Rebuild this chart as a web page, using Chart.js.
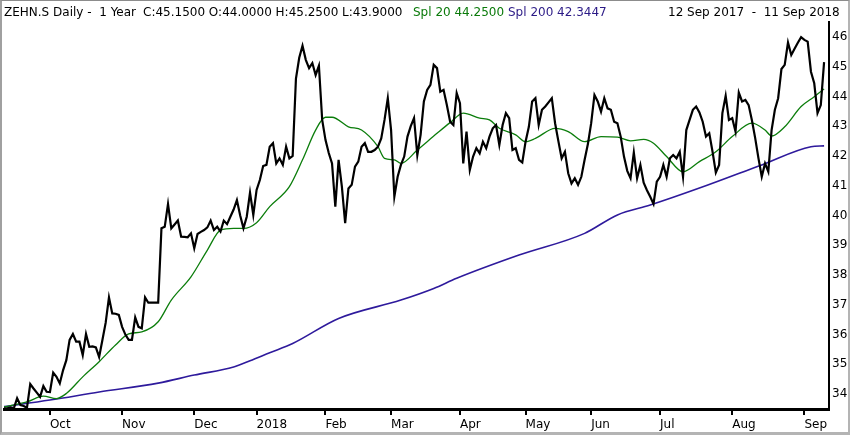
<!DOCTYPE html>
<html>
<head>
<meta charset="utf-8">
<script src="https://cdn.jsdelivr.net/npm/chart.js@4.4.0/dist/chart.umd.min.js"></script>
<style>
  html, body { margin: 0; padding: 0; background: #fff; }
  #wrap { position: relative; width: 850px; height: 435px; overflow: hidden; font-family: "DejaVu Sans", sans-serif; }
  #chart { position: absolute; left: 0; top: 0; }
  .frame { position: absolute; left: 0; top: 0; width: 850px; height: 435px; box-sizing: border-box;
    border-top: 1px solid #8c8c8c; border-left: 2px solid #a0a0a0;
    border-right: 2px solid #b4b4b4; border-bottom: 3px solid #b4b4b4; pointer-events: none; }
  .hdr { position: absolute; top: 5px; font-size: 12px; line-height: 14px; white-space: pre; color: #000; }
</style>
</head>
<body>
<div id="wrap">
  <canvas id="chart" width="850" height="435"></canvas>
  <div class="hdr" style="left:4px">ZEHN.S Daily -  1 Year</div>
  <div class="hdr" style="left:143px">C:45.1500 O:44.0000 H:45.2500 L:43.9000</div>
  <div class="hdr" style="left:413px;color:#0a7a0a">Spl 20 44.2500</div>
  <div class="hdr" style="left:508px;color:#2b1a86">Spl 200 42.3447</div>
  <div class="hdr" style="left:668px">12 Sep 2017  -  11 Sep 2018</div>
  <div class="frame"></div>
</div>
<script>
// daily closes, one per trading day (12 Sep 2017 - 11 Sep 2018)
const closeValues = [
  33.52, 33.52, 33.55, 33.52, 33.86, 33.63, 33.60, 33.54, 34.34, 34.19,
  34.05, 33.91, 34.27, 34.08, 34.07, 34.72, 34.58, 34.36, 34.80, 35.14,
  35.82, 36.02, 35.76, 35.76, 35.31, 36.02, 35.59, 35.60, 35.57, 35.25,
  35.82, 36.40, 37.25, 36.71, 36.70, 36.66, 36.26, 36.00, 35.82, 35.82,
  36.58, 36.26, 36.21, 37.25, 37.07, 37.07, 37.07, 37.07, 39.57, 39.62,
  40.39, 39.57, 39.70, 39.83, 39.29, 39.28, 39.27, 39.40, 38.90, 39.38,
  39.45, 39.51, 39.60, 39.83, 39.51, 39.62, 39.46, 39.83, 39.71, 39.96,
  40.20, 40.52, 40.00, 39.57, 39.96, 40.77, 40.02, 40.86, 41.19, 41.66,
  41.70, 42.31, 42.43, 41.75, 41.92, 41.70, 42.31, 41.92, 42.00, 44.60,
  45.30, 45.70, 45.23, 44.95, 45.12, 44.72, 45.03, 43.21, 42.54, 42.10,
  41.75, 40.30, 41.87, 40.97, 39.74, 40.91, 41.03, 41.64, 41.81, 42.31,
  42.43, 42.14, 42.14, 42.20, 42.31, 42.59, 43.21, 43.94, 42.87, 40.63,
  41.30, 41.70, 41.98, 42.65, 43.00, 43.27, 42.03, 42.71, 43.83, 44.22,
  44.39, 45.06, 44.95, 44.16, 44.22, 43.71, 43.15, 43.04, 44.11, 43.77,
  41.75, 42.82, 41.53, 41.98, 42.26, 42.09, 42.48, 42.26, 42.65, 42.93,
  43.04, 42.37, 43.04, 43.44, 43.27, 42.20, 42.26, 41.87, 41.78, 42.48,
  42.98, 43.83, 43.94, 43.04, 43.55, 43.66, 43.80, 43.94, 43.10, 42.50,
  41.92, 42.14, 41.42, 41.08, 41.25, 41.03, 41.30, 41.87, 42.40, 43.10,
  44.05, 43.83, 43.49, 43.94, 43.60, 43.55, 43.15, 43.10, 42.65, 41.98,
  41.50, 41.25, 42.12, 41.25, 41.70, 41.10, 40.85, 40.63, 40.39, 41.14,
  41.30, 41.70, 41.30, 41.92, 42.03, 41.92, 42.14, 41.30, 42.87, 43.21,
  43.55, 43.66, 43.46, 43.15, 42.65, 42.76, 42.14, 41.44, 41.70, 43.44,
  44.02, 43.21, 43.27, 42.82, 44.13, 43.83, 43.88, 43.71, 43.20, 42.60,
  41.92, 41.30, 41.75, 41.47, 42.87, 43.55, 43.94, 44.92, 45.06, 45.81,
  45.39, 45.60, 45.80, 45.99, 45.90, 45.84, 44.83, 44.44, 43.44, 43.71,
  45.15
];

// 20-day simple moving average, read at these trading-day positions
const sma20Days = [0, 7, 12, 16, 19, 24, 29, 34, 38, 42, 47, 51, 57, 62, 66, 70, 73, 77, 81, 87,
  91, 95, 98, 100, 105, 109, 114, 116, 119, 121, 126, 132, 136, 140, 145, 148, 151, 156, 159, 162,
  168, 172, 177, 182, 187, 191, 195, 198, 202, 207, 212, 217, 222, 228, 232, 234, 238, 243, 247, 250];
const sma20Values = [33.57, 33.74, 33.93, 33.85, 34.02, 34.58, 35.09, 35.65, 36.02, 36.09, 36.43, 37.16, 37.94, 38.84, 39.51, 39.57, 39.57, 39.76, 40.30, 40.97,
  41.87, 42.87, 43.30, 43.30, 42.98, 42.87, 42.31, 41.92, 41.87, 41.75, 42.20, 42.76, 43.12, 43.44, 43.27, 43.21, 42.93, 42.71, 42.48, 42.59,
  42.93, 42.82, 42.48, 42.65, 42.63, 42.51, 42.56, 42.43, 41.98, 41.47, 41.81, 42.14, 42.65, 43.10, 42.87, 42.67, 42.98, 43.66, 43.99, 44.25];

// 200-day simple moving average
const sma200Days = [0, 14, 29, 47, 58, 70, 75, 81, 88, 102, 121, 131, 138, 157, 177, 187, 197, 212, 231, 246, 250];
const sma200Values = [33.58, 33.80, 34.07, 34.37, 34.64, 34.91, 35.12, 35.39, 35.70, 36.54, 37.16, 37.55, 37.89, 38.67, 39.40, 40.02, 40.35, 40.92, 41.70, 42.31, 42.34];

// month starts (trading-day index) and their labels
const monthTickDays = [14, 36, 58, 77, 98, 118, 139, 159, 179, 200, 222, 244];
const monthTickLabels = ["Oct", "Nov", "Dec", "2018", "Feb", "Mar", "Apr", "May", "Jun", "Jul", "Aug", "Sep"];

const priceTicks = [34, 35, 36, 37, 38, 39, 40, 41, 42, 43, 44, 45, 46];

const toPoints = (days, values) => days.map((d, i) => ({ x: d, y: values[i] }));
const axisFont = { family: "DejaVu Sans", size: 12 };

new Chart(document.getElementById("chart"), {
  type: "line",
  data: {
    datasets: [
      {
        label: "ZEHN.S",
        data: closeValues.map((v, i) => ({ x: i, y: v })),
        borderColor: "#000000",
        borderWidth: 2.2,
        pointRadius: 0,
        tension: 0,
      },
      {
        label: "Spl 20",
        data: toPoints(sma20Days, sma20Values),
        borderColor: "#0b7d0b",
        borderWidth: 1.3,
        pointRadius: 0,
        cubicInterpolationMode: "monotone",
      },
      {
        label: "Spl 200",
        data: toPoints(sma200Days, sma200Values),
        borderColor: "#2e1a9c",
        borderWidth: 1.6,
        pointRadius: 0,
        cubicInterpolationMode: "monotone",
      },
    ],
  },
  options: {
    responsive: false,
    animation: false,
    layout: { padding: { left: 4, top: 22, right: 0, bottom: 0 } },
    plugins: { legend: { display: false }, tooltip: { enabled: false } },
    scales: {
      x: {
        type: "linear",
        position: "bottom",
        min: 0,
        max: 251.5,
        afterBuildTicks: (scale) => {
          scale.ticks = monthTickDays.map((d) => ({ value: d }));
        },
        afterFit: (scale) => {
          scale.height = 26;
        },
        grid: { display: true, drawOnChartArea: false, drawTicks: true, tickLength: 6, color: "#000", lineWidth: 2 },
        border: { display: true, color: "#000", width: 3 },
        ticks: {
          align: "start",
          padding: 3,
          color: "#000",
          font: axisFont,
          maxRotation: 0,
          autoSkip: false,
          callback: (value, index) => monthTickLabels[index],
        },
      },
      y: {
        type: "linear",
        position: "right",
        min: 33.5,
        max: 46.5,
        afterBuildTicks: (scale) => {
          scale.ticks = priceTicks.map((v) => ({ value: v }));
        },
        afterFit: (scale) => {
          scale.width = 21;
        },
        grid: { display: false, drawTicks: false, tickLength: 0 },
        border: { display: true, color: "#000", width: 2 },
        ticks: { color: "#000", padding: 3, font: axisFont },
      },
    },
  },
});
</script>
</body>
</html>
